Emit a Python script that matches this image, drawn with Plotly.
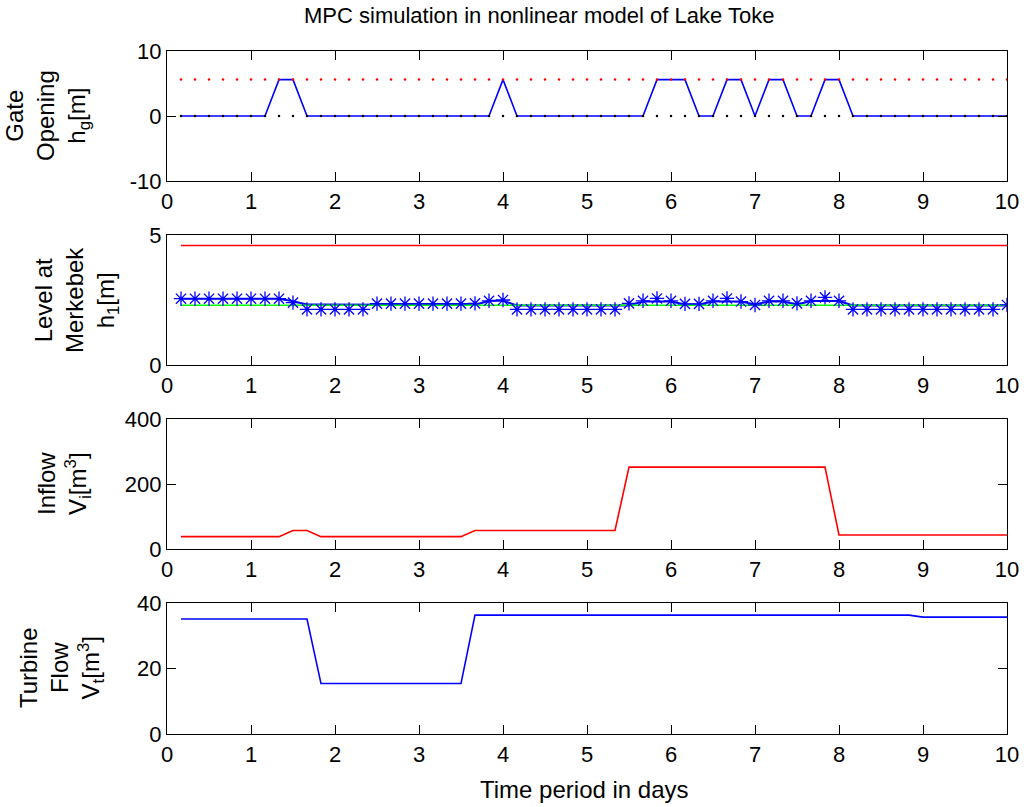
import plotly.graph_objects as go

# ---------------- data ----------------
time_days = [0.1667, 0.3333, 0.5, 0.6667, 0.8333, 1.0, 1.1667, 1.3333, 1.5, 1.6667,
             1.8333, 2.0, 2.1667, 2.3333, 2.5, 2.6667, 2.8333, 3.0, 3.1667, 3.3333,
             3.5, 3.6667, 3.8333, 4.0, 4.1667, 4.3333, 4.5, 4.6667, 4.8333, 5.0,
             5.1667, 5.3333, 5.5, 5.6667, 5.8333, 6.0, 6.1667, 6.3333, 6.5, 6.6667,
             6.8333, 7.0, 7.1667, 7.3333, 7.5, 7.6667, 7.8333, 8.0, 8.1667, 8.3333,
             8.5, 8.6667, 8.8333, 9.0, 9.1667, 9.3333, 9.5, 9.6667, 9.8333, 10.0]

gate_opening = [0, 0, 0, 0, 0, 0, 0, 5.6, 5.6, 0,
                0, 0, 0, 0, 0, 0, 0, 0, 0, 0,
                0, 0, 0, 5.6, 0, 0, 0, 0, 0, 0,
                0, 0, 0, 0, 5.6, 5.6, 5.6, 0, 0, 5.6,
                5.6, 0, 5.6, 5.6, 0, 0, 5.6, 5.6, 0, 0,
                0, 0, 0, 0, 0, 0, 0, 0, 0, 0]
GATE_MAX = 5.6
GATE_MIN = 0.0

level_line = [2.55, 2.55, 2.55, 2.55, 2.55, 2.55, 2.55, 2.55, 2.45, 2.33,
              2.33, 2.33, 2.33, 2.33, 2.31, 2.31, 2.31, 2.31, 2.31, 2.31,
              2.31, 2.31, 2.47, 2.47, 2.29, 2.29, 2.29, 2.29, 2.29, 2.29,
              2.29, 2.29, 2.29, 2.44, 2.44, 2.44, 2.33, 2.33, 2.44, 2.44,
              2.44, 2.33, 2.44, 2.44, 2.33, 2.46, 2.46, 2.46, 2.29, 2.29,
              2.29, 2.29, 2.29, 2.29, 2.29, 2.29, 2.29, 2.29, 2.29, 2.29]

level_samples = [2.55, 2.55, 2.55, 2.55, 2.55, 2.55, 2.55, 2.55, 2.40, 2.14,
                 2.14, 2.14, 2.14, 2.14, 2.36, 2.36, 2.36, 2.36, 2.36, 2.36,
                 2.36, 2.37, 2.47, 2.50, 2.14, 2.14, 2.14, 2.14, 2.14, 2.14,
                 2.14, 2.14, 2.37, 2.47, 2.56, 2.47, 2.35, 2.35, 2.47, 2.56,
                 2.44, 2.31, 2.47, 2.47, 2.37, 2.47, 2.60, 2.47, 2.14, 2.14,
                 2.14, 2.14, 2.14, 2.14, 2.14, 2.14, 2.14, 2.14, 2.14, 2.31]
LEVEL_REF = 2.3
LEVEL_MAX = 4.6

inflow = [38, 38, 38, 38, 38, 38, 38, 38, 57, 57,
          38, 38, 38, 38, 38, 38, 38, 38, 38, 38,
          38, 57, 57, 57, 57, 57, 57, 57, 57, 57,
          57, 57, 252, 252, 252, 252, 252, 252, 252, 252,
          252, 252, 252, 252, 252, 252, 252, 43, 43, 43,
          43, 43, 43, 43, 43, 43, 43, 43, 43, 43]

turbine = [35.1, 35.1, 35.1, 35.1, 35.1, 35.1, 35.1, 35.1, 35.1, 35.1,
           15.4, 15.4, 15.4, 15.4, 15.4, 15.4, 15.4, 15.4, 15.4, 15.4,
           15.4, 36.3, 36.3, 36.3, 36.3, 36.3, 36.3, 36.3, 36.3, 36.3,
           36.3, 36.3, 36.3, 36.3, 36.3, 36.3, 36.3, 36.3, 36.3, 36.3,
           36.3, 36.3, 36.3, 36.3, 36.3, 36.3, 36.3, 36.3, 36.3, 36.3,
           36.3, 36.3, 36.3, 35.7, 35.7, 35.7, 35.7, 35.7, 35.7, 35.7]

x_ticks = [0, 1, 2, 3, 4, 5, 6, 7, 8, 9, 10]
y1_ticks = [-10, 0, 10]
y2_ticks = [0, 5]
y3_ticks = [0, 200, 400]
y4_ticks = [0, 20, 40]

title_text = "MPC simulation in nonlinear model of Lake Toke"
xlabel_text = "Time period in days"
ylabels = ["Gate<br>Opening<br>h<sub>g</sub>[m]",
           "Level at<br>Merkebek<br>h<sub>1</sub>[m]",
           "Inflow<br>V<sub>i</sub>[m<sup>3</sup>]",
           "Turbine<br>Flow<br>V<sub>t</sub>[m<sup>3</sup>]"]

# ---------------- styling ----------------
FONT = "Liberation Sans, Arial, Helvetica, sans-serif"
BLUE = "#0000FF"
RED = "#FF0000"
GREEN = "#00FF00"
W, H = 1030, 807
ML, MR, MT, MB = 167, 23, 51, 73
PH = H - MT - MB
PW = W - ML - MR

def ydom(top_px, bot_px):
    return [(H - MB - bot_px) / PH, (H - MB - top_px) / PH]

domains = [ydom(51, 181), ydom(235, 365), ydom(419, 549), ydom(603, 734)]

fig = go.Figure()

# subplot 1: gate opening
fig.add_trace(go.Scatter(x=time_days, y=gate_opening, mode="lines",
                         line=dict(color=BLUE, width=1.6), xaxis="x", yaxis="y"))
fig.add_trace(go.Scatter(x=time_days, y=[GATE_MAX] * len(time_days), mode="markers",
                         marker=dict(color=RED, size=2.5), xaxis="x", yaxis="y"))
fig.add_trace(go.Scatter(x=time_days, y=[GATE_MIN] * len(time_days), mode="markers",
                         marker=dict(color="black", size=2.5), xaxis="x", yaxis="y"))

# subplot 2: level
fig.add_trace(go.Scatter(x=time_days, y=level_line, mode="lines",
                         line=dict(color=BLUE, width=2), xaxis="x2", yaxis="y2"))
fig.add_trace(go.Scatter(x=time_days, y=[LEVEL_REF] * len(time_days), mode="lines",
                         line=dict(color=GREEN, width=1.5), xaxis="x2", yaxis="y2"))
fig.add_trace(go.Scatter(x=time_days, y=[LEVEL_MAX] * len(time_days), mode="lines",
                         line=dict(color=RED, width=1.5), xaxis="x2", yaxis="y2"))
fig.add_trace(go.Scatter(x=time_days, y=level_samples, mode="markers",
                         marker=dict(symbol="asterisk-open", size=12, color=BLUE,
                                     line=dict(color=BLUE, width=1.3)),
                         xaxis="x2", yaxis="y2"))

# subplot 3: inflow
fig.add_trace(go.Scatter(x=time_days, y=inflow, mode="lines",
                         line=dict(color=RED, width=1.6), xaxis="x3", yaxis="y3"))

# subplot 4: turbine flow
fig.add_trace(go.Scatter(x=time_days, y=turbine, mode="lines",
                         line=dict(color=BLUE, width=1.6), xaxis="x4", yaxis="y4"))

common_axis = dict(ticks="inside", ticklen=9, tickwidth=1, tickcolor="black",
                   showline=True, linecolor="black", linewidth=1.2, mirror="ticks",
                   showgrid=False, zeroline=False,
                   tickfont=dict(family=FONT, size=22, color="black"))

layout = dict(width=W, height=H, margin=dict(l=ML, r=MR, t=MT, b=MB),
              paper_bgcolor="white", plot_bgcolor="white", showlegend=False,
              font=dict(family=FONT, color="black"))

yticks = [y1_ticks, y2_ticks, y3_ticks, y4_ticks]
for i in range(4):
    sx = "" if i == 0 else str(i + 1)
    layout["xaxis" + sx] = dict(common_axis, domain=[0, 1], range=[0, 10],
                                tickvals=x_ticks, ticktext=[str(v) for v in x_ticks],
                                anchor="y" + sx)
    layout["yaxis" + sx] = dict(common_axis, domain=domains[i],
                                range=[yticks[i][0], yticks[i][-1]],
                                tickvals=yticks[i],
                                ticktext=[str(v) for v in yticks[i]],
                                anchor="x" + sx)

fig.update_layout(**layout)

def px_x(p):
    return (p - ML) / PW

def px_y(p):
    return (H - MB - p) / PH

label_pos = [(47, 116), (76, 300), (64, 484), (61, 668)]
annotations = []
for txt, (xp, yp) in zip(ylabels, label_pos):
    annotations.append(dict(text=txt, xref="paper", yref="paper", x=px_x(xp), y=px_y(yp),
                            xanchor="center", yanchor="middle", textangle=-90,
                            showarrow=False, font=dict(family=FONT, size=24, color="black")))
annotations.append(dict(text=title_text, xref="paper", yref="paper", x=px_x(539), y=px_y(15),
                        xanchor="center", yanchor="middle", showarrow=False,
                        font=dict(family=FONT, size=22, color="black")))
annotations.append(dict(text=xlabel_text, xref="paper", yref="paper", x=px_x(584), y=px_y(789),
                        xanchor="center", yanchor="middle", showarrow=False,
                        font=dict(family=FONT, size=24, color="black")))
fig.update_layout(annotations=annotations)

fig.write_html("out.html")
